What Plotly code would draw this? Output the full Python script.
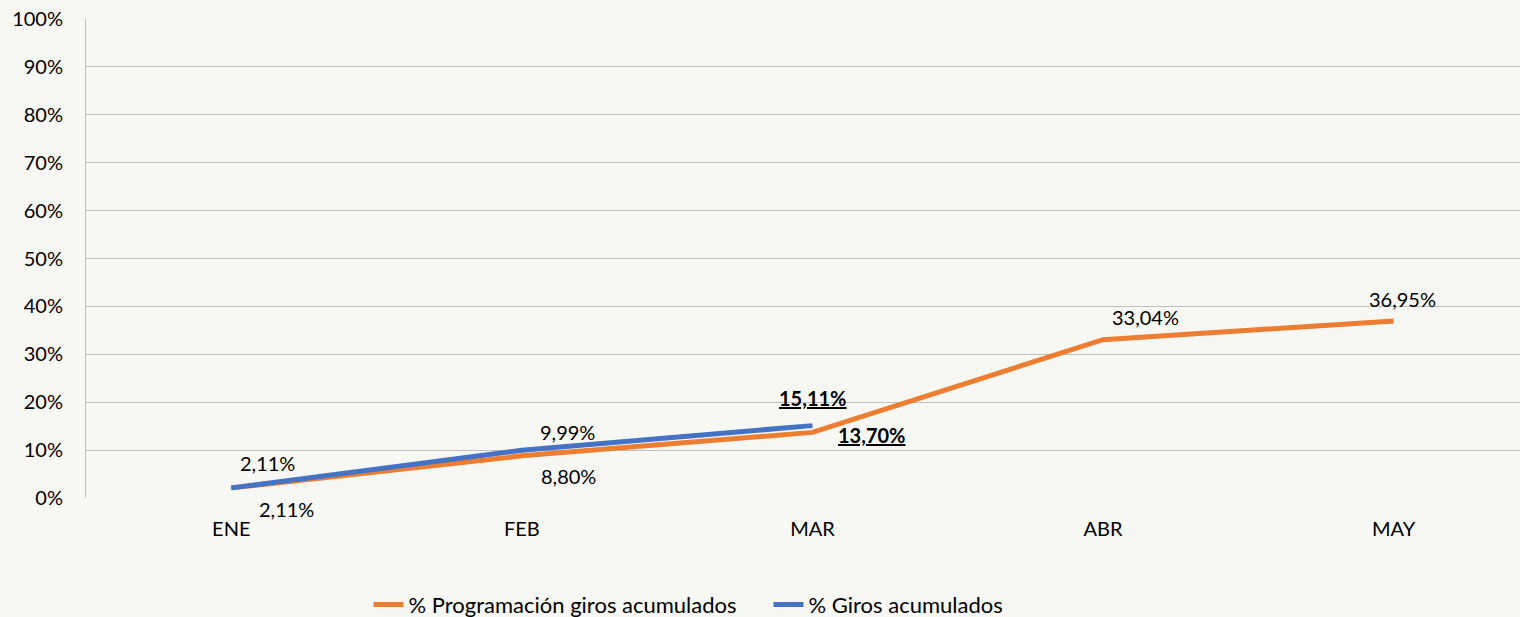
import plotly.graph_objects as go

months = ["ENE", "FEB", "MAR", "ABR", "MAY"]
prog_vals = [0.0211, 0.0880, 0.1370, 0.3304, 0.3695]
prog_labels = ["2,11%", "8,80%", "13,70%", "33,04%", "36,95%"]
giros_months = ["ENE", "FEB", "MAR"]
giros_vals = [0.0211, 0.0999, 0.1511]
giros_labels = ["2,11%", "9,99%", "15,11%"]
y_ticks = [0, 0.1, 0.2, 0.3, 0.4, 0.5, 0.6, 0.7, 0.8, 0.9, 1.0]

ORANGE = "#ED7D31"
BLUE = "#4472C4"
FONT = "Lato"
BG = "#F7F7F3"
FS = 20

fig = go.Figure()
fig.add_trace(go.Scatter(x=months, y=prog_vals, mode="lines", name="% Programación giros acumulados",
                         line=dict(color=ORANGE, width=5), hoverinfo="skip"))
fig.add_trace(go.Scatter(x=giros_months, y=giros_vals, mode="lines", name="% Giros acumulados",
                         line=dict(color=BLUE, width=5), hoverinfo="skip"))

# label offsets (pixels) and emphasis
prog_off = [(55, -21), (47, -20), (59, -3), (42, 23), (9, 22)]
giros_off = [(36, 25), (46, 18), (0, 28)]
annotations = []
for i, (m, v, t) in enumerate(zip(months, prog_vals, prog_labels)):
    txt = f"<b><u>{t}</u></b>" if m == "MAR" else t
    annotations.append(dict(x=m, y=v, text=txt, showarrow=False, xshift=prog_off[i][0], yshift=prog_off[i][1],
                            font=dict(family=FONT, size=FS, color="#000000")))
for i, (m, v, t) in enumerate(zip(giros_months, giros_vals, giros_labels)):
    txt = f"<b><u>{t}</u></b>" if m == "MAR" else t
    annotations.append(dict(x=m, y=v, text=txt, showarrow=False, xshift=giros_off[i][0], yshift=giros_off[i][1],
                            font=dict(family=FONT, size=FS, color="#000000")))

fig.update_layout(
    width=1520, height=617,
    margin=dict(l=86, r=0, t=19, b=119, autoexpand=False),
    paper_bgcolor=BG, plot_bgcolor=BG,
    font=dict(family=FONT, size=FS, color="#000000"),
    showlegend=True,
    legend=dict(orientation="h", x=0.197, xanchor="left", y=-0.223, yanchor="middle",
                font=dict(family=FONT, size=22), bgcolor="rgba(0,0,0,0)", tracegroupgap=0,
                entrywidth=355, entrywidthmode="pixels"),
    annotations=annotations,
    xaxis=dict(type="category", categoryorder="array", categoryarray=months,
               range=[-0.5, 4.435], showgrid=False, showline=False, zeroline=False,
               ticks="", ticklabelstandoff=17, tickfont=dict(family=FONT, size=FS)),
    yaxis=dict(range=[0, 1], tickvals=y_ticks, tickformat=".0%", showgrid=True, gridcolor="#BFBFBF",
               gridwidth=1, showline=True, linecolor="#BFBFBF", linewidth=1, zeroline=False,
               ticks="", ticklabelstandoff=18, tickfont=dict(family=FONT, size=FS)),
)

fig.write_html("out.html", config={"displayModeBar": False},
               post_script="document.body.style.margin='0';document.body.style.background='%s';" % BG)
